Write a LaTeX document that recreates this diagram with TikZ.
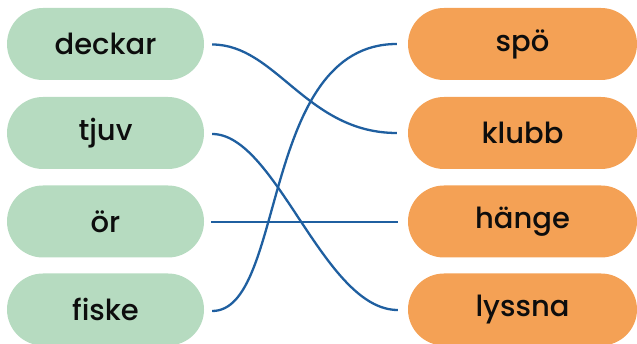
\documentclass[tikz,border=0pt]{standalone}
\usepackage{fontspec}
\setmainfont{Poppins Medium}
\definecolor{pillgreen}{HTML}{B6DBC0}
\definecolor{pillorange}{HTML}{F4A155}
\definecolor{linkblue}{HTML}{1F5FA0}
\begin{document}
\begin{tikzpicture}[x=1pt,y=-1pt,
  leftpill/.style={fill=pillgreen,draw=none,rounded corners=36pt,minimum width=197pt,minimum height=72pt,inner sep=0pt,font=\fontsize{29}{32}\selectfont,text=black!95},
  rightpill/.style={fill=pillorange,draw=none,rounded corners=36pt,minimum width=229pt,minimum height=72pt,inner sep=0pt,font=\fontsize{29}{32}\selectfont,text=black!95},
  link/.style={draw=linkblue,line width=2.3pt}]
\useasboundingbox (0,0) rectangle (637,344);
\node[leftpill] (deckar) at (105.5,44) {deckar};
\node[leftpill] (tjuv) at (105.5,133) {tjuv};
\node[leftpill] (or) at (105.5,221.5) {ör};
\node[leftpill] (fiske) at (105.5,309.5) {fiske};
\node[rightpill] (spo) at (522.5,44) {spö};
\node[rightpill] (klubb) at (522.5,133) {klubb};
\node[rightpill] (hange) at (522.5,221.5) {hänge};
\node[rightpill] (lyssna) at (522.5,309.5) {lyssna};
\coordinate (a1) at ([xshift=8pt,yshift=-0.5pt]deckar.east);
\coordinate (a2) at ([xshift=8pt,yshift=-1pt]tjuv.east);
\coordinate (a3) at ([xshift=7pt,yshift=-0.5pt]or.east);
\coordinate (a4) at ([xshift=8pt,yshift=-1.5pt]fiske.east);
\coordinate (b1) at ([xshift=-11pt]spo.west);
\coordinate (b2) at ([xshift=-11pt]klubb.west);
\coordinate (b3) at ([xshift=-10pt,yshift=-0.5pt]hange.west);
\coordinate (b4) at ([xshift=-10pt,yshift=-0.5pt]lyssna.west);
\draw[link] (a1) .. controls +(64,0) and +(-90,0) .. (b2);
\draw[link] (a2) .. controls +(64,0) and +(-74,0) .. (b4);
\draw[link] (a3) -- (b3);
\draw[link] (a4) .. controls +(74,0) and +(-137,0) .. (b1);
\end{tikzpicture}
\end{document}
